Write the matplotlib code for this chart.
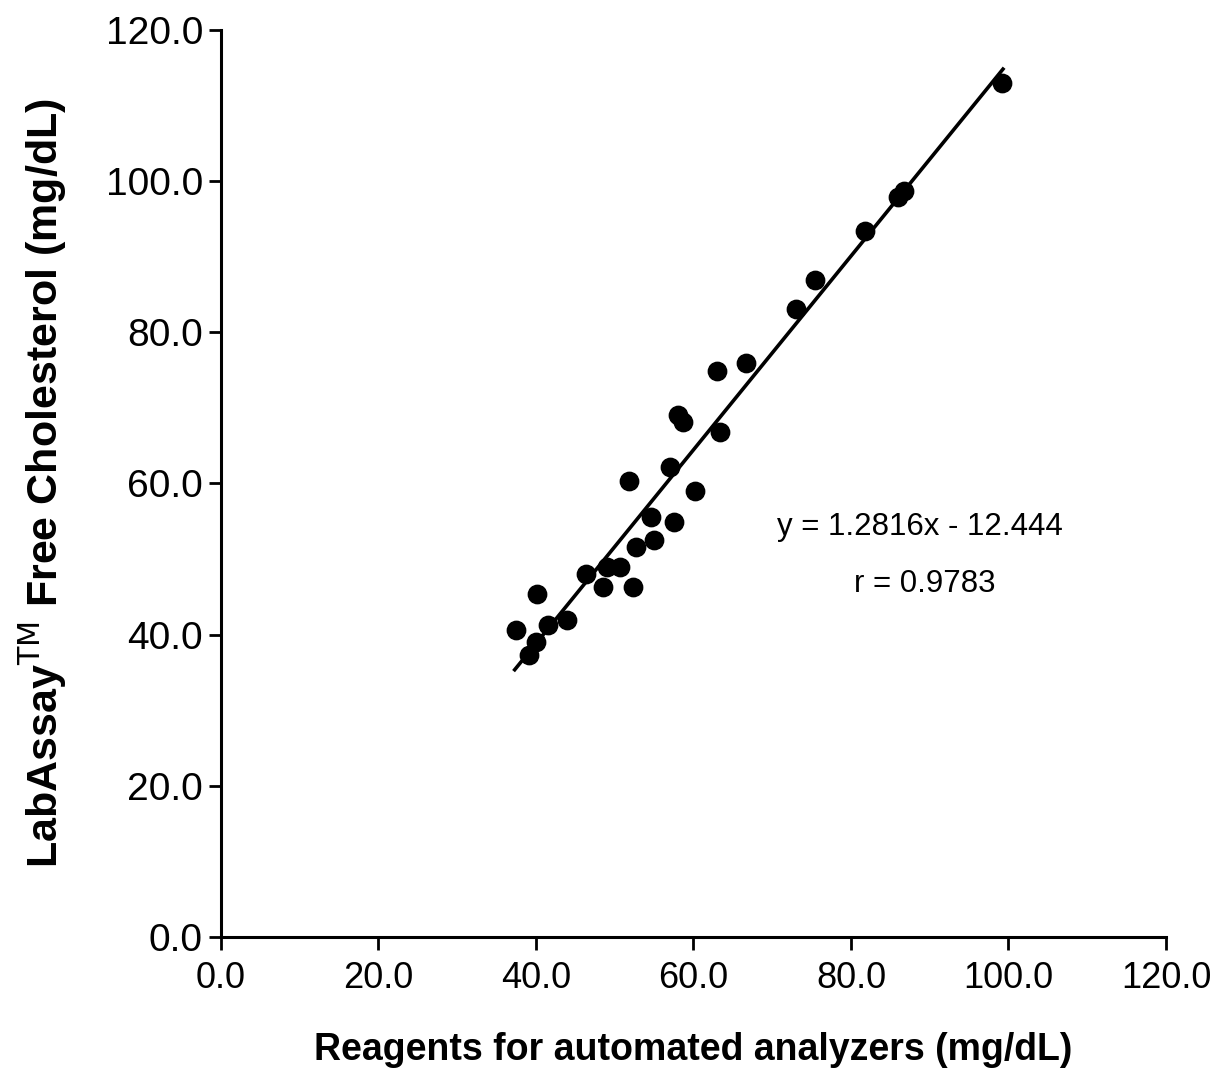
import numpy as np
import matplotlib
matplotlib.use("Agg")
import matplotlib.pyplot as plt

plt.rcParams['font.family'] = ['Liberation Sans', 'DejaVu Sans']

# reagents for automated analyzers (x) vs LabAssay free cholesterol (y), mg/dL
ref_vals = [37.5, 39.1, 40.0, 40.1, 41.5, 43.9, 46.3, 48.5, 49.0, 50.7,
            51.8, 52.3, 52.7, 54.6, 55.0, 57.5, 57.0, 58.0, 58.7, 60.2,
            63.0, 63.4, 66.7, 73.0, 75.4, 81.8, 86.0, 86.7, 99.2]
lab_vals = [40.6, 37.3, 39.0, 45.4, 41.3, 41.9, 48.0, 46.3, 49.0, 49.0,
            60.3, 46.3, 51.6, 55.6, 52.5, 54.9, 62.2, 69.1, 68.1, 59.0,
            74.9, 66.8, 75.9, 83.1, 86.9, 93.4, 97.9, 98.7, 113.0]

slope = 1.2816
intercept = -12.444
r_value = 0.9783

ticks = [0, 20, 40, 60, 80, 100, 120]

fig = plt.figure(figsize=(12.18, 10.70), dpi=100)
ax = fig.add_axes([0.1814, 0.1243, 0.7759, 0.8477])

ax.scatter(ref_vals, lab_vals, s=175, color='black', zorder=3)

xf = np.array([min(ref_vals) - 0.2, max(ref_vals) + 0.1])
ax.plot(xf, slope * xf + intercept, color='black', linewidth=2.6, zorder=2)

ax.text(88.8, 54.2, f'y = {slope}x - {abs(intercept)}', ha='center', va='center', fontsize=22.5)
ax.text(89.4, 46.7, f'r = {r_value}', ha='center', va='center', fontsize=22.5)

ax.set_xlim(0, 120)
ax.set_ylim(0, 120)
ax.set_xticks(ticks)
ax.set_yticks(ticks)
ax.set_xticklabels([f'{t:.1f}' for t in ticks])
ax.set_yticklabels([f'{t:.1f}' for t in ticks])
ax.tick_params(direction='out', length=9, width=2)
ax.tick_params(axis='x', labelsize=26, pad=8)
ax.tick_params(axis='y', labelsize=28, pad=4)

for side in ['top', 'right']:
    ax.spines[side].set_visible(False)
for side in ['left', 'bottom']:
    ax.spines[side].set_linewidth(2.2)

ax.set_xlabel('Reagents for automated analyzers (mg/dL)', fontsize=27, fontweight='bold', labelpad=26)
ax.set_ylabel('LabAssay$^{\\mathrm{TM}}$ Free Cholesterol (mg/dL)', fontsize=31, fontweight='bold', labelpad=26)

fig.savefig('out.png', dpi=100)
